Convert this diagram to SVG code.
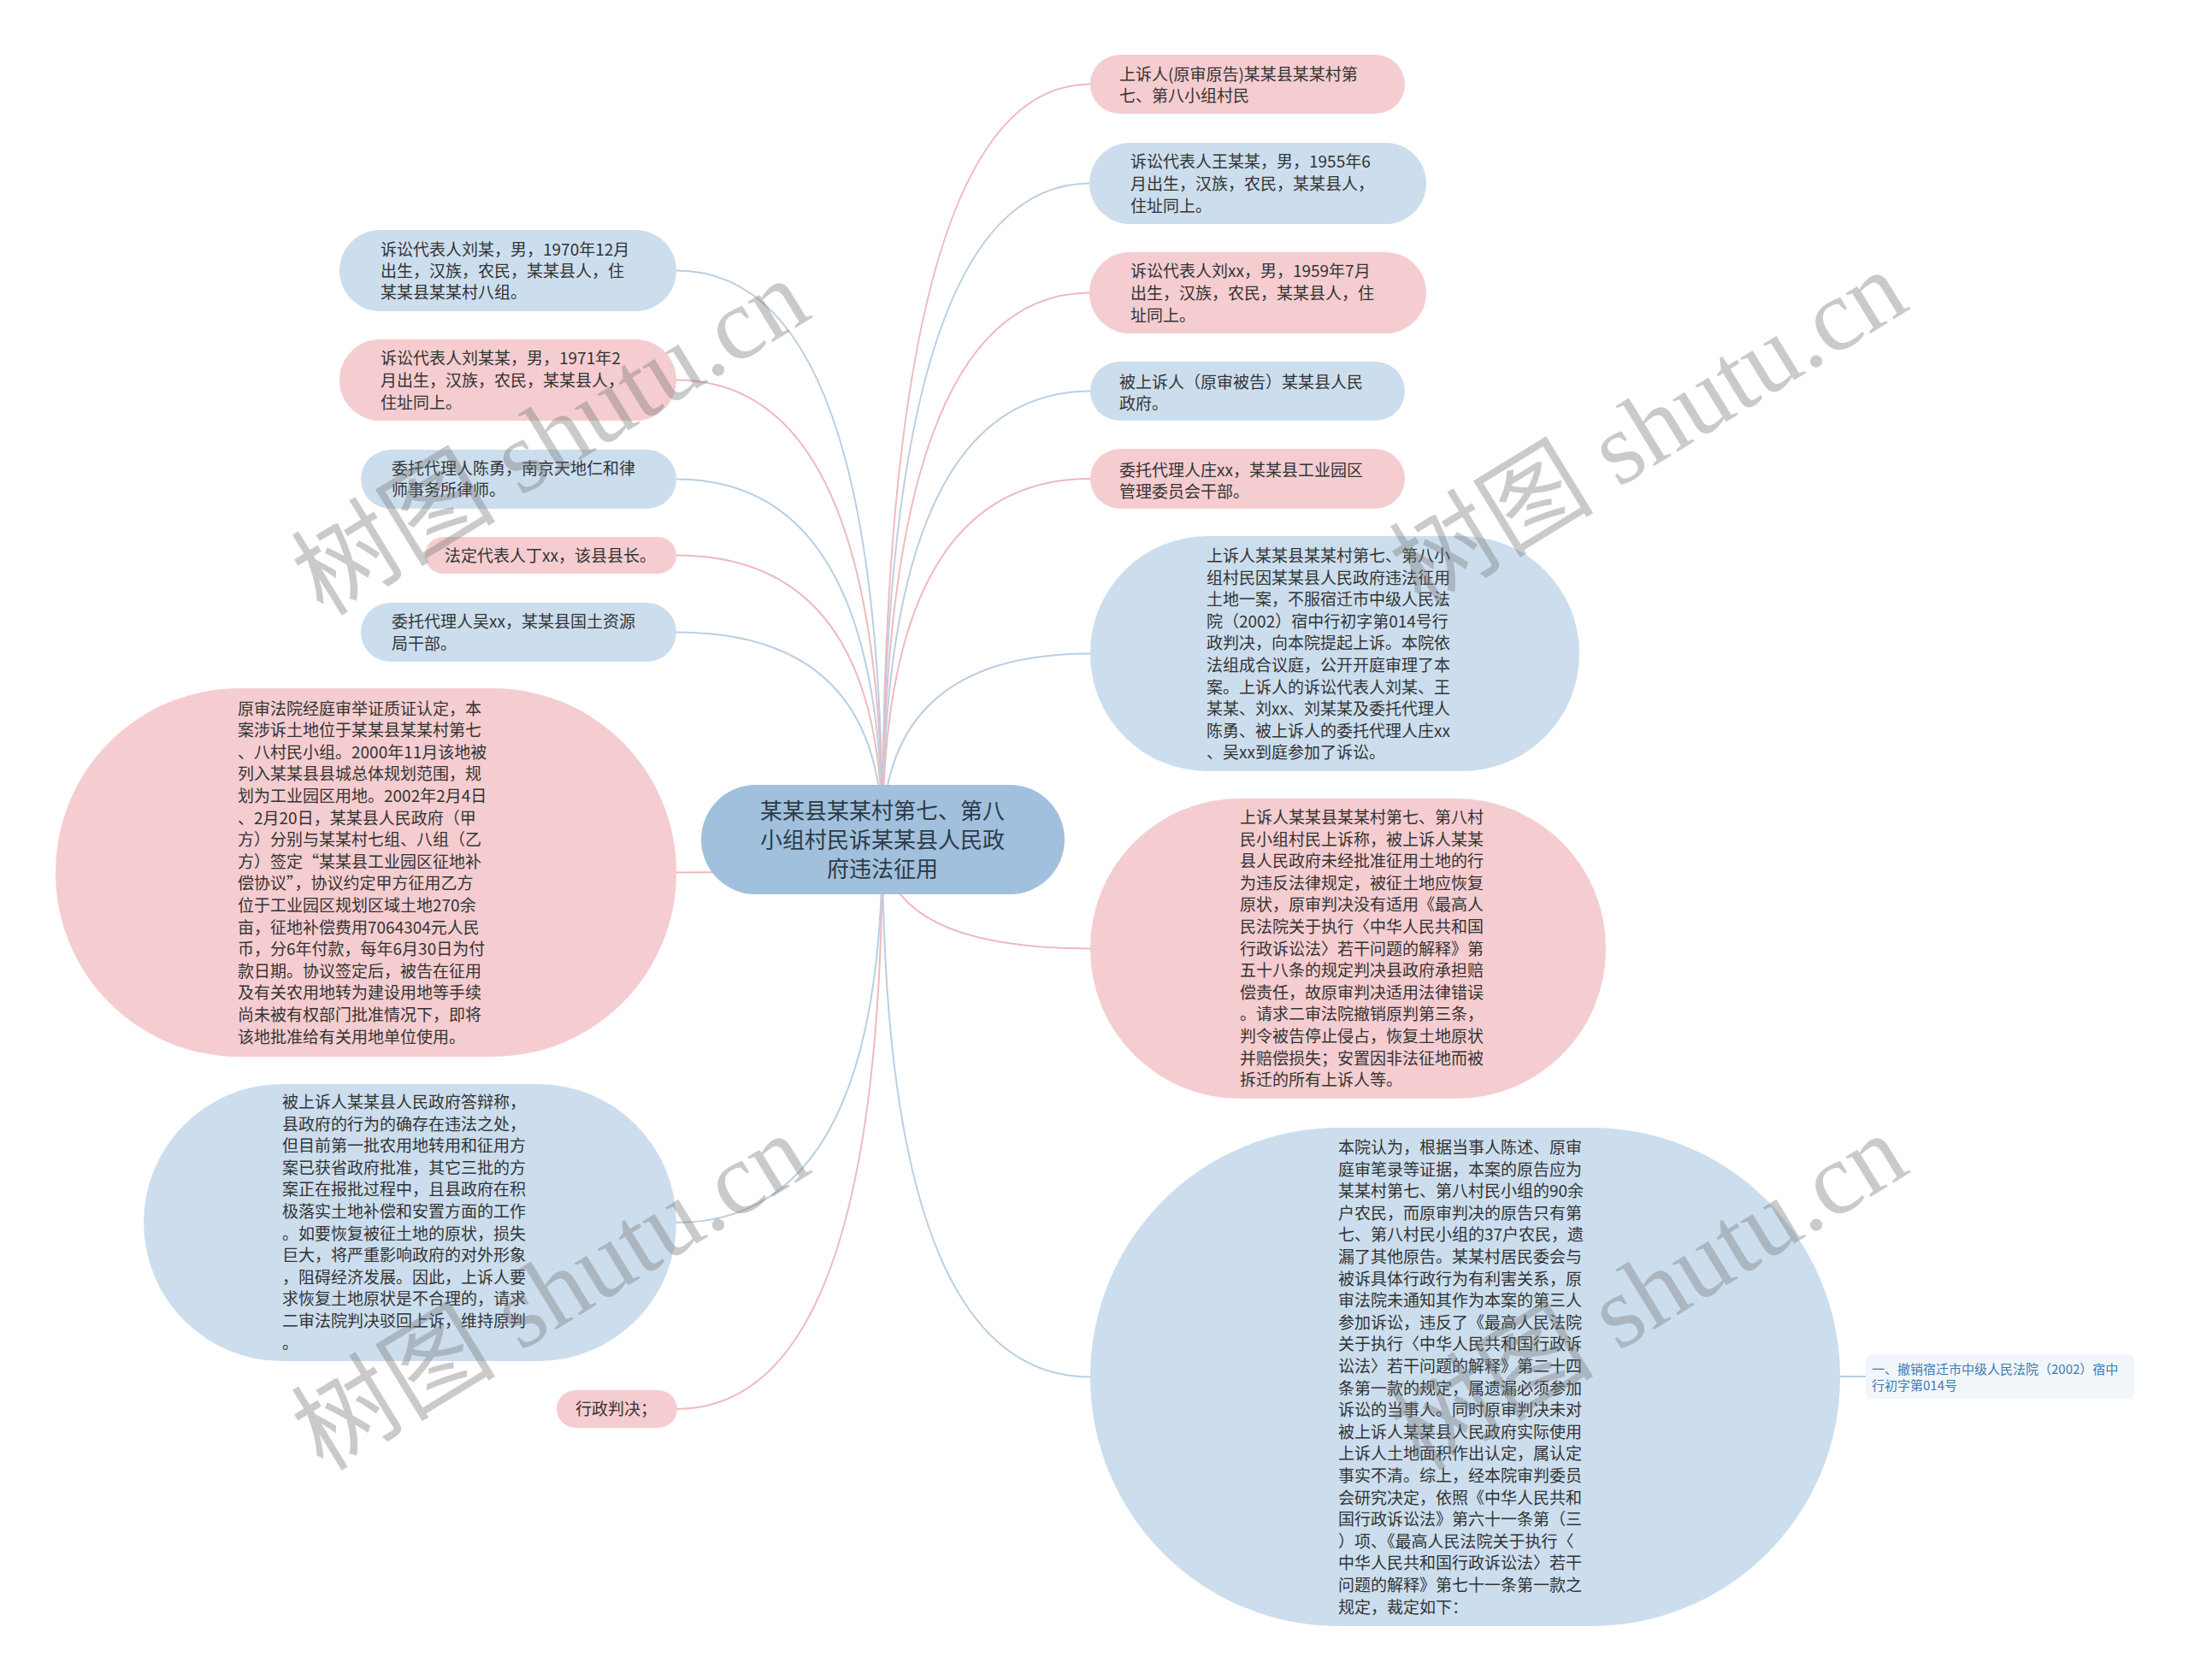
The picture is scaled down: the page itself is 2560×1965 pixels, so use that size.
<svg xmlns="http://www.w3.org/2000/svg" width="2560" height="1965" viewBox="0 0 2560 1965">
<style>
.t{font-family:"Noto Sans CJK SC","Noto Sans",sans-serif;font-size:19px;fill:#333}
.rt{font-family:"Noto Sans CJK SC","Noto Sans",sans-serif;font-size:26px;fill:#2f3a45}
.st{font-family:"Noto Sans CJK SC","Noto Sans",sans-serif;font-size:15px;fill:#3d7ab3}
.pk{fill:#f5cdd0}
.bl{fill:#ccdeee}
.cp{fill:none;stroke:#efb9bd;stroke-width:2}
.cb{fill:none;stroke:#b9cfe3;stroke-width:2}
.wm{font-family:"Liberation Serif","Noto Sans CJK SC",serif;font-size:120px;fill:#777;opacity:0.38}
</style>
<rect width="2560" height="1965" fill="#fff"/>
<g id="connectors">
<path class="cp" d="M1032,982 Q1032,98.5 1275,98.5"/>
<path class="cb" d="M1032,982 Q1032,214.5 1275,214.5"/>
<path class="cp" d="M1032,982 Q1032,342.5 1275,342.5"/>
<path class="cb" d="M1032,982 Q1032,457.5 1275,457.5"/>
<path class="cp" d="M1032,982 Q1032,560 1275,560"/>
<path class="cb" d="M1032,982 Q1032,764.5 1275,764.5"/>
<path class="cp" d="M1032,982 Q1032,1109.5 1275,1109.5"/>
<path class="cb" d="M1032,982 Q1032,1610.5 1275,1610.5"/>
<path class="cb" d="M1032,982 Q1032,316.5 791,316.5"/>
<path class="cp" d="M1032,982 Q1032,444.5 791,444.5"/>
<path class="cb" d="M1032,982 Q1032,560.5 791,560.5"/>
<path class="cp" d="M1032,982 Q1032,649.5 791,649.5"/>
<path class="cb" d="M1032,982 Q1032,739.5 791,739.5"/>
<path class="cp" d="M1032,982 Q1032,1020.5 791,1020.5"/>
<path class="cb" d="M1032,982 Q1032,1430 791,1430"/>
<path class="cp" d="M1032,982 Q1032,1648 791,1648"/>
<path class="cb" d="M2150,1610 L2183,1610"/>
</g>
<g id="root">
<rect x="820" y="918" width="425" height="128" rx="64" fill="#a0c0dd"/>
<text class="rt" text-anchor="middle"><tspan x="1032" y="958">某某县某某村第七、第八</tspan><tspan x="1032" y="992">小组村民诉某某县人民政</tspan><tspan x="1032" y="1026">府违法征用</tspan></text>
</g>
<g id="r1">
<rect class="pk" x="1275" y="64" width="368" height="69" rx="34.5"/>
<text class="t"><tspan x="1309" y="94">上诉人(原审原告)某某县某某村第</tspan><tspan x="1309" y="119">七、第八小组村民</tspan></text>
</g>
<g id="r2">
<rect class="bl" x="1274" y="167" width="394" height="95" rx="47.5"/>
<text class="t"><tspan x="1322" y="196">诉讼代表人王某某，男，1955年6</tspan><tspan x="1322" y="222">月出生，汉族，农民，某某县人，</tspan><tspan x="1322" y="248">住址同上。</tspan></text>
</g>
<g id="r3">
<rect class="pk" x="1274" y="295" width="394" height="95" rx="47.5"/>
<text class="t"><tspan x="1322" y="324">诉讼代表人刘xx，男，1959年7月</tspan><tspan x="1322" y="350">出生，汉族，农民，某某县人，住</tspan><tspan x="1322" y="376">址同上。</tspan></text>
</g>
<g id="r4">
<rect class="bl" x="1275" y="423" width="368" height="69" rx="34.5"/>
<text class="t"><tspan x="1309" y="454">被上诉人（原审被告）某某县人民</tspan><tspan x="1309" y="479">政府。</tspan></text>
</g>
<g id="r5">
<rect class="pk" x="1275" y="525" width="368" height="70" rx="35"/>
<text class="t"><tspan x="1309" y="557">委托代理人庄xx，某某县工业园区</tspan><tspan x="1309" y="582">管理委员会干部。</tspan></text>
</g>
<g id="r6">
<rect class="bl" x="1275" y="627" width="572" height="275" rx="137"/>
<text class="t"><tspan x="1411" y="657">上诉人某某县某某村第七、第八小</tspan><tspan x="1411" y="682.6">组村民因某某县人民政府违法征用</tspan><tspan x="1411" y="708.2">土地一案，不服宿迁市中级人民法</tspan><tspan x="1411" y="733.8">院（2002）宿中行初字第014号行</tspan><tspan x="1411" y="759.4">政判决，向本院提起上诉。本院依</tspan><tspan x="1411" y="785">法组成合议庭，公开开庭审理了本</tspan><tspan x="1411" y="810.6">案。上诉人的诉讼代表人刘某、王</tspan><tspan x="1411" y="836.2">某某、刘xx、刘某某及委托代理人</tspan><tspan x="1411" y="861.8">陈勇、被上诉人的委托代理人庄xx</tspan><tspan x="1411" y="887.4">、吴xx到庭参加了诉讼。</tspan></text>
</g>
<g id="r7">
<rect class="pk" x="1275" y="934" width="603" height="351" rx="175"/>
<text class="t"><tspan x="1450" y="963">上诉人某某县某某村第七、第八村</tspan><tspan x="1450" y="988.6">民小组村民上诉称，被上诉人某某</tspan><tspan x="1450" y="1014.2">县人民政府未经批准征用土地的行</tspan><tspan x="1450" y="1039.8">为违反法律规定，被征土地应恢复</tspan><tspan x="1450" y="1065.4">原状，原审判决没有适用《最高人</tspan><tspan x="1450" y="1091">民法院关于执行〈中华人民共和国</tspan><tspan x="1450" y="1116.6">行政诉讼法〉若干问题的解释》第</tspan><tspan x="1450" y="1142.2">五十八条的规定判决县政府承担赔</tspan><tspan x="1450" y="1167.8">偿责任，故原审判决适用法律错误</tspan><tspan x="1450" y="1193.4">。请求二审法院撤销原判第三条，</tspan><tspan x="1450" y="1219">判令被告停止侵占，恢复土地原状</tspan><tspan x="1450" y="1244.6">并赔偿损失；安置因非法征地而被</tspan><tspan x="1450" y="1270.2">拆迁的所有上诉人等。</tspan></text>
</g>
<g id="r8">
<rect class="bl" x="1275" y="1319" width="877" height="583" rx="291"/>
<text class="t"><tspan x="1565" y="1349">本院认为，根据当事人陈述、原审</tspan><tspan x="1565" y="1374.6">庭审笔录等证据，本案的原告应为</tspan><tspan x="1565" y="1400.2">某某村第七、第八村民小组的90余</tspan><tspan x="1565" y="1425.8">户农民，而原审判决的原告只有第</tspan><tspan x="1565" y="1451.4">七、第八村民小组的37户农民，遗</tspan><tspan x="1565" y="1477">漏了其他原告。某某村居民委会与</tspan><tspan x="1565" y="1502.6">被诉具体行政行为有利害关系，原</tspan><tspan x="1565" y="1528.2">审法院未通知其作为本案的第三人</tspan><tspan x="1565" y="1553.8">参加诉讼，违反了《最高人民法院</tspan><tspan x="1565" y="1579.4">关于执行〈中华人民共和国行政诉</tspan><tspan x="1565" y="1605">讼法〉若干问题的解释》第二十四</tspan><tspan x="1565" y="1630.6">条第一款的规定，属遗漏必须参加</tspan><tspan x="1565" y="1656.2">诉讼的当事人。同时原审判决未对</tspan><tspan x="1565" y="1681.8">被上诉人某某县人民政府实际使用</tspan><tspan x="1565" y="1707.4">上诉人土地面积作出认定，属认定</tspan><tspan x="1565" y="1733">事实不清。综上，经本院审判委员</tspan><tspan x="1565" y="1758.6">会研究决定，依照《中华人民共和</tspan><tspan x="1565" y="1784.2">国行政诉讼法》第六十一条第（三</tspan><tspan x="1565" y="1809.8">）项、《最高人民法院关于执行〈</tspan><tspan x="1565" y="1835.4">中华人民共和国行政诉讼法〉若干</tspan><tspan x="1565" y="1861">问题的解释》第七十一条第一款之</tspan><tspan x="1565" y="1886.6">规定，裁定如下：</tspan></text>
</g>
<g id="r9">
<rect x="2182" y="1584" width="314" height="52" rx="7" fill="#f1f6fb"/>
<text class="st"><tspan x="2189" y="1607">一、撤销宿迁市中级人民法院（2002）宿中</tspan><tspan x="2189" y="1626">行初字第014号</tspan></text>
</g>
<g id="l1">
<rect class="bl" x="397" y="269" width="394" height="95" rx="47.5"/>
<text class="t"><tspan x="445" y="299">诉讼代表人刘某，男，1970年12月</tspan><tspan x="445" y="324">出生，汉族，农民，某某县人，住</tspan><tspan x="445" y="349">某某县某某村八组。</tspan></text>
</g>
<g id="l2">
<rect class="pk" x="397" y="397" width="394" height="95" rx="47.5"/>
<text class="t"><tspan x="445" y="426">诉讼代表人刘某某，男，1971年2</tspan><tspan x="445" y="452">月出生，汉族，农民，某某县人，</tspan><tspan x="445" y="478">住址同上。</tspan></text>
</g>
<g id="l3">
<rect class="bl" x="422" y="526" width="369" height="69" rx="34.5"/>
<text class="t"><tspan x="458" y="555">委托代理人陈勇，南京天地仁和律</tspan><tspan x="458" y="580">师事务所律师。</tspan></text>
</g>
<g id="l4">
<rect class="pk" x="497" y="628" width="294" height="43" rx="21.5"/>
<text class="t"><tspan x="520" y="657">法定代表人丁xx，该县县长。</tspan></text>
</g>
<g id="l5">
<rect class="bl" x="422" y="705" width="369" height="69" rx="34.5"/>
<text class="t"><tspan x="458" y="734">委托代理人吴xx，某某县国土资源</tspan><tspan x="458" y="760">局干部。</tspan></text>
</g>
<g id="l6">
<rect class="pk" x="65" y="805" width="726" height="431" rx="215"/>
<text class="t"><tspan x="278" y="835.5">原审法院经庭审举证质证认定，本</tspan><tspan x="278" y="861.1">案涉诉土地位于某某县某某村第七</tspan><tspan x="278" y="886.7">、八村民小组。2000年11月该地被</tspan><tspan x="278" y="912.3">列入某某县县城总体规划范围，规</tspan><tspan x="278" y="937.9">划为工业园区用地。2002年2月4日</tspan><tspan x="278" y="963.5">、2月20日，某某县人民政府（甲</tspan><tspan x="278" y="989.1">方）分别与某某村七组、八组（乙</tspan><tspan x="278" y="1014.7">方）签定“某某县工业园区征地补</tspan><tspan x="278" y="1040.3">偿协议”，协议约定甲方征用乙方</tspan><tspan x="278" y="1065.9">位于工业园区规划区域土地270余</tspan><tspan x="278" y="1091.5">亩，征地补偿费用7064304元人民</tspan><tspan x="278" y="1117.1">币，分6年付款，每年6月30日为付</tspan><tspan x="278" y="1142.7">款日期。协议签定后，被告在征用</tspan><tspan x="278" y="1168.3">及有关农用地转为建设用地等手续</tspan><tspan x="278" y="1193.9">尚未被有权部门批准情况下，即将</tspan><tspan x="278" y="1219.5">该地批准给有关用地单位使用。</tspan></text>
</g>
<g id="l7">
<rect class="bl" x="168" y="1268" width="623" height="324" rx="162"/>
<text class="t"><tspan x="330" y="1296">被上诉人某某县人民政府答辩称，</tspan><tspan x="330" y="1321.6">县政府的行为的确存在违法之处，</tspan><tspan x="330" y="1347.2">但目前第一批农用地转用和征用方</tspan><tspan x="330" y="1372.8">案已获省政府批准，其它三批的方</tspan><tspan x="330" y="1398.4">案正在报批过程中，且县政府在积</tspan><tspan x="330" y="1424">极落实土地补偿和安置方面的工作</tspan><tspan x="330" y="1449.6">。如要恢复被征土地的原状，损失</tspan><tspan x="330" y="1475.2">巨大，将严重影响政府的对外形象</tspan><tspan x="330" y="1500.8">，阻碍经济发展。因此，上诉人要</tspan><tspan x="330" y="1526.4">求恢复土地原状是不合理的，请求</tspan><tspan x="330" y="1552">二审法院判决驳回上诉，维持原判</tspan><tspan x="330" y="1577.6">。</tspan></text>
</g>
<g id="l8">
<rect class="pk" x="651" y="1626" width="141" height="44" rx="22"/>
<text class="t"><tspan x="673" y="1655">行政判决；</tspan></text>
</g>
<g id="watermarks">
<text class="wm" transform="translate(378,722) rotate(-31.5)">树图 shutu.cn</text>
<text class="wm" transform="translate(1662,712) rotate(-31.5)">树图 shutu.cn</text>
<text class="wm" transform="translate(378,1722) rotate(-31.5)">树图 shutu.cn</text>
<text class="wm" transform="translate(1662,1722) rotate(-31.5)">树图 shutu.cn</text>
</g>
</svg>
